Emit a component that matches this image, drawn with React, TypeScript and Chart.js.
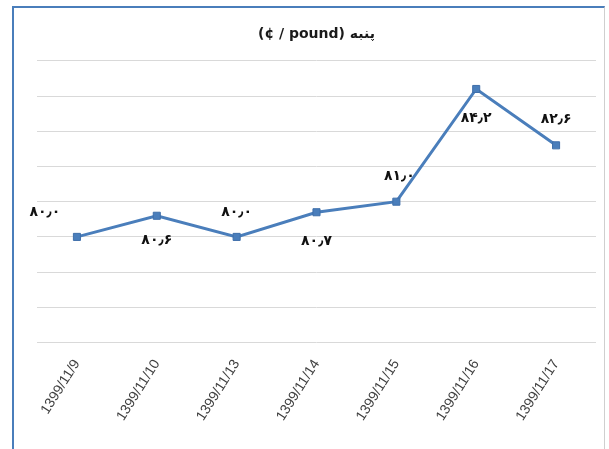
import React, { useEffect, useRef } from "react";
import { Chart, registerables } from "chart.js";

Chart.register(...registerables);

const categories = [
  "1399/11/9",
  "1399/11/10",
  "1399/11/13",
  "1399/11/14",
  "1399/11/15",
  "1399/11/16",
  "1399/11/17",
];
const values = [80.0, 80.6, 80.0, 80.7, 81.0, 84.2, 82.6];
const valueLabels = ["۸۰٫۰", "۸۰٫۶", "۸۰٫۰", "۸۰٫۷", "۸۱٫۰", "۸۴٫۲", "۸۲٫۶"];
const titleText = "(¢ / pound) پنبه";
const yMin = 77;
const yMax = 85;
const yStep = 1;

// label placement offsets relative to each point (dx, dy)
const labelOffsets: [number, number][] = [
  [-32, -25],
  [0, 25],
  [0, -25],
  [0, 29],
  [3, -25],
  [0, 29],
  [0, -26],
];

const LINE_COLOR = "#4A7EBB";

const dataLabelPlugin = {
  id: "dataLabels",
  afterDatasetsDraw(chart: any) {
    const ctx = chart.ctx;
    const meta = chart.getDatasetMeta(0);
    ctx.save();
    ctx.font = "bold 14px 'DejaVu Sans', sans-serif";
    ctx.fillStyle = "#111";
    ctx.textAlign = "center";
    ctx.textBaseline = "middle";
    meta.data.forEach((pt: any, i: number) => {
      const [dx, dy] = labelOffsets[i];
      ctx.fillText(valueLabels[i], pt.x + dx, pt.y + dy);
    });
    ctx.restore();
  },
};

export default function App() {
  const ref = useRef<HTMLCanvasElement>(null);
  useEffect(() => {
    if (!ref.current) return;
    const chart = new Chart(ref.current, {
      type: "line",
      data: {
        labels: categories,
        datasets: [
          {
            data: values,
            borderColor: LINE_COLOR,
            backgroundColor: LINE_COLOR,
            borderWidth: 3,
            pointStyle: "rect",
            pointRadius: 5,
            pointBorderColor: "#3F6FAA",
            pointBackgroundColor: LINE_COLOR,
            pointBorderWidth: 1,
            tension: 0,
          },
        ],
      },
      options: {
        animation: false,
        responsive: true,
        maintainAspectRatio: false,
        layout: { padding: { left: 37, right: 13, top: 0, bottom: 11 } },
        plugins: {
          legend: { display: false },
          tooltip: { enabled: false },
          title: {
            display: true,
            text: titleText,
            color: "#1a1a1a",
            font: { family: "'DejaVu Sans', sans-serif", size: 14, weight: "bold" },
            padding: { top: 26, bottom: 18 },
          },
        },
        scales: {
          x: {
            offset: true,
            grid: { display: false, drawTicks: false },
            border: { display: false },
            ticks: {
              color: "#404040",
              font: { family: "'Liberation Sans', sans-serif", size: 14 },
              minRotation: 58,
              maxRotation: 58,
              padding: 14,
            },
          },
          y: {
            min: yMin,
            max: yMax,
            ticks: { display: false, stepSize: yStep },
            grid: { color: "#D9D9D9", lineWidth: 1, drawTicks: false },
            border: { display: false },
          },
        },
      },
      plugins: [dataLabelPlugin],
    });
    return () => chart.destroy();
  }, []);

  return (
    <div
      style={{
        position: "fixed",
        left: 0,
        top: 0,
        width: 609,
        height: 449,
        overflow: "hidden",
        background: "#fff",
      }}
    >
      <div
        style={{
          position: "absolute",
          left: 12,
          top: 6,
          width: 593,
          height: 443,
          borderLeft: "2px solid #4A7EBB",
          borderTop: "2px solid #4A7EBB",
          borderRight: "1px solid #CFCFCF",
          boxSizing: "border-box",
        }}
      />
      <div style={{ position: "absolute", left: 0, top: 0, width: 609, height: 449 }}>
        <canvas ref={ref} />
      </div>
    </div>
  );
}
